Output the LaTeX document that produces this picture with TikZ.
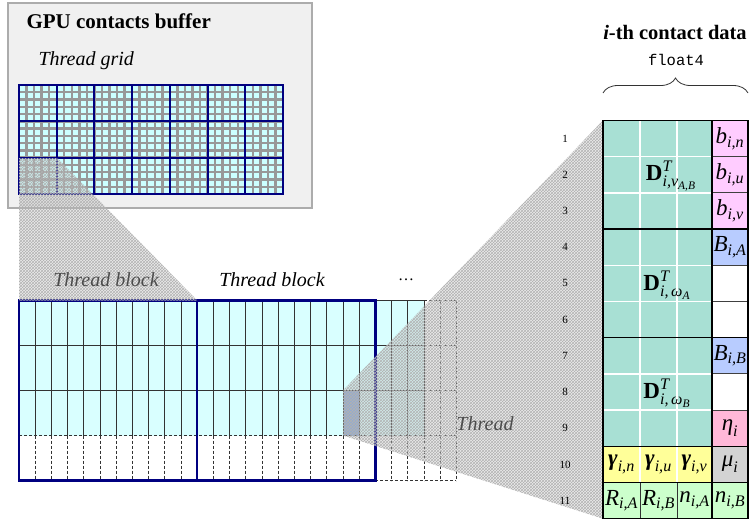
\documentclass[tikz,border=0pt]{standalone}
\usepackage{amsmath}
\usepackage{fontspec}
\setmainfont{Liberation Serif}
\setmonofont{Liberation Mono}
\usetikzlibrary{patterns,decorations.pathreplacing}

\newcommand{\ital}[1]{\text{\itshape #1}}
\newcommand{\boldital}[1]{\text{\bfseries\itshape #1}}

\definecolor{boxgray}{HTML}{F0F0F0}
\definecolor{gridcyan}{HTML}{CCFFFF}
\definecolor{blockcyan}{HTML}{D9FFFF}
\definecolor{finegray}{HTML}{989898}
\definecolor{navyline}{HTML}{000080}
\definecolor{threadblue}{HTML}{7FA3D8}
\definecolor{dteal}{HTML}{A8E0D4}
\definecolor{bpink}{HTML}{FFCCFF}
\definecolor{bblue}{HTML}{B8CCFF}
\definecolor{etapink}{HTML}{FFB8D8}
\definecolor{mugray}{HTML}{D3D3D3}
\definecolor{gamyellow}{HTML}{FFFF99}
\definecolor{rgreen}{HTML}{CCFFCC}

\begin{document}
\begin{tikzpicture}[x=1pt, y=-1pt,
    fine line/.style={draw=finegray, line width=2.4pt},
    block line/.style={draw=navyline, line width=2pt},
    cell line/.style={draw=black!80, line width=0.8pt},
    cell dash/.style={draw=black!80, line width=0.8pt, dash pattern=on 3pt off 2pt},
    hatch area/.style={fill=gray!50, fill opacity=0.3},
    hatch lines/.style={pattern=crosshatch, pattern color=gray!60, fill opacity=0.55},
    big label/.style={font=\itshape\fontsize{20}{22}\selectfont},
    cell math/.style={font=\fontsize{23}{26}\selectfont, inner sep=0pt},
    row num/.style={font=\fontsize{11}{13}\selectfont}]
    \useasboundingbox (0,0) rectangle (749,523);

    % GPU contacts buffer
    \draw[draw=gray!65, line width=1.5pt, fill=boxgray] (8,3) rectangle (312,208);
    \node[anchor=west, font=\bfseries\fontsize{21}{24}\selectfont] (buffer title) at (23,21) {GPU contacts buffer};
    \node[anchor=west, big label] (grid label) at (35,61) {Thread grid};

    % thread grid
    \fill[gridcyan] (19,85) rectangle (283,194);
    \foreach \i in {1,...,34}
        \draw[fine line] ({19+\i*7.543},85) -- ++(0,109);
    \foreach \j in {1,...,14}
        \draw[fine line] (19,{85+\j*7.267}) -- ++(264,0);
    \foreach \k in {0,...,7}
        \draw[block line] ({19+\k*37.71},85) -- ++(0,109);
    \foreach \k in {0,...,3}
        \draw[block line] (18,{85+\k*36.33}) -- ++(266,0);

    % thread blocks
    \fill[blockcyan] (19,300.5) rectangle (424,435.5);
    \fill[threadblue] (343,390.5) rectangle (359.2,435.5);
    \foreach \c in {1,...,25}
        \draw[cell line] ({19+\c*16.2},300.5) -- ({19+\c*16.2},435.5);
    \foreach \c in {26,27}
        \draw[cell dash] ({19+\c*16.2},300.5) -- ({19+\c*16.2},435.5);
    \foreach \c in {1,...,27}
        \draw[cell dash] ({19+\c*16.2},435.5) -- ({19+\c*16.2},480.5);
    \foreach \y in {345.5,390.5} {
        \draw[cell line] (19,\y) -- (424,\y);
        \draw[cell dash] (424,\y) -- (456.4,\y);
    }
    \draw[cell line] (375.4,300.5) -- (424,300.5);
    \draw[cell dash] (424,300.5) -- (456.4,300.5);
    \draw[cell dash] (19,435.5) -- (456.4,435.5);
    \draw[cell dash] (375.4,480.5) -- (456.4,480.5);
    \draw[block line, line width=2.4pt] (19,300.5) rectangle (197.2,480.5);
    \draw[block line, line width=2.4pt] (197.2,300.5) rectangle (375.4,480.5);

    % projections
    \fill[hatch area] (19,158) -- (57.4,158) -- (197.2,300.5) -- (19,300.5) -- cycle;
    \fill[hatch lines] (19,158) -- (57.4,158) -- (197.2,300.5) -- (19,300.5) -- cycle;
    \fill[hatch area] (343,390.5) -- (603,120.5) -- (603,518.7) -- (343,435.5) -- cycle;
    \fill[hatch lines] (343,390.5) -- (603,120.5) -- (603,518.7) -- (343,435.5) -- cycle;

    \node[big label, text=black!70] (block one) at (106,280) {Thread block};
    \node[big label] (block two) at (272,280) {Thread block};
    \node[font=\fontsize{16}{18}\selectfont] (more blocks) at (406,280) {\dots};
    \node[big label, text=black!70] (thread label) at (485,424) {Thread};

    % i-th contact data
    \node[font=\bfseries\fontsize{20.5}{23}\selectfont] (data title) at (675,32) {\textit{i}-th contact data};
    \node[font=\ttfamily\fontsize{15.5}{17}\selectfont] (float four) at (676,60) {float4};
    \draw[black!80, line width=0.8pt, decorate, decoration={brace, amplitude=15pt}] (603,93) -- (748,93);

    \fill[dteal] (603,120.5) rectangle (712,446.3);
    \foreach \x in {640,677}
        \draw[white, line width=1.5pt] (\x,120.5) -- (\x,446.3);
    \foreach \r in {1,2,4,5,7,8}
        \draw[white, line width=1.5pt] (603,{120.5+\r*36.2}) -- (712,{120.5+\r*36.2});
    \fill[gamyellow] (603,446.3) rectangle (712,482.5);
    \foreach \x in {640,677}
        \draw[white, line width=1.2pt] (\x,446.3) -- (\x,482.5);
    \fill[rgreen] (603,482.5) rectangle (712,518.7);
    \foreach \x in {640,677}
        \draw[black!80, line width=1pt] (\x,482.5) -- (\x,518.7);
    \foreach \r/\col in {1/bpink,2/bpink,3/bpink,4/bblue,5/white,6/white,7/bblue,8/white,9/etapink,10/mugray,11/rgreen}
        \filldraw[fill=\col, draw=black!75, line width=0.9pt] (712,{120.5+(\r-1)*36.2}) rectangle (748,{120.5+\r*36.2});
    \foreach \r in {3,6,9,10}
        \draw[black, line width=1.4pt] (603,{120.5+\r*36.2}) -- (748,{120.5+\r*36.2});
    \draw[black, line width=1.4pt] (712,120.5) -- (712,518.7);
    \draw[black, line width=1.5pt] (603,120.5) rectangle (748,518.7);

    \foreach \r in {1,...,11}
        \node[row num] (row \r) at (565,{120.5+(\r-0.5)*36.2}) {\r};

    \node[cell math] (d lin) at (671,176) {$\text{\bfseries D}^{\ital{T}}_{\ital{i,v}_{\ital{A,B}}}$};
    \node[cell math] (d ang a) at (667,285) {$\text{\bfseries D}^{\ital{T}}_{\ital{i,\,ω}_{\ital{A}}}$};
    \node[cell math] (d ang b) at (667,393) {$\text{\bfseries D}^{\ital{T}}_{\ital{i,\,ω}_{\ital{B}}}$};
    \node[cell math] (b n) at (730,138.6) {$\ital{b}_{\ital{i,n}}$};
    \node[cell math] (b u) at (730,174.8) {$\ital{b}_{\ital{i,u}}$};
    \node[cell math] (b v) at (730,211) {$\ital{b}_{\ital{i,v}}$};
    \node[cell math] (big b a) at (730,247.2) {$\ital{B}_{\ital{i,A}}$};
    \node[cell math] (big b b) at (730,355.8) {$\ital{B}_{\ital{i,B}}$};
    \node[cell math] (eta) at (730,428.2) {$\ital{η}_{\ital{i}}$};
    \node[cell math] (mu) at (730,464.4) {$\ital{μ}_{\ital{i}}$};
    \node[cell math] (gam n) at (621.5,464.4) {$\boldital{γ}_{\ital{i,n}}$};
    \node[cell math] (gam u) at (658.5,464.4) {$\boldital{γ}_{\ital{i,u}}$};
    \node[cell math] (gam v) at (694.5,464.4) {$\boldital{γ}_{\ital{i,v}}$};
    \node[cell math] (r a) at (621.5,500.6) {$\ital{R}_{\ital{i,A}}$};
    \node[cell math] (r b) at (658.5,500.6) {$\ital{R}_{\ital{i,B}}$};
    \node[cell math] (n a) at (694.5,500.6) {$\ital{n}_{\ital{i,A}}$};
    \node[cell math] (n b) at (730,500.6) {$\ital{n}_{\ital{i,B}}$};
\end{tikzpicture}
\end{document}
